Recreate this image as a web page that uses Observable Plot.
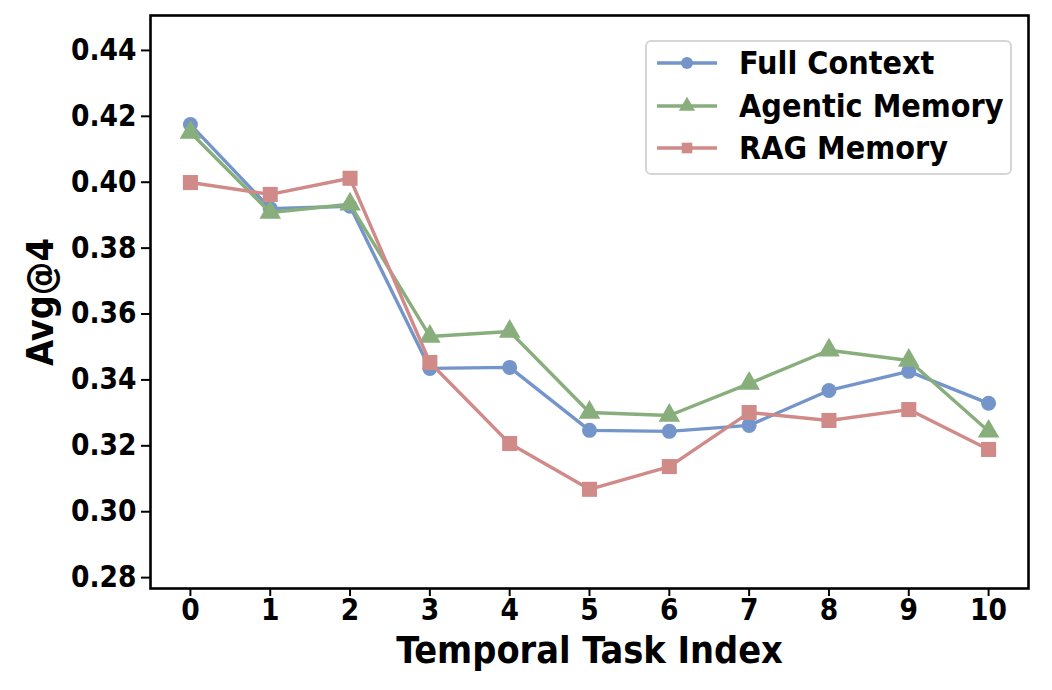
<!DOCTYPE html>
<html>
<head>
<meta charset="utf-8">
<script src="https://cdn.jsdelivr.net/npm/d3@7"></script>
<script src="https://cdn.jsdelivr.net/npm/@observablehq/plot@0.6"></script>
<style>
  html, body { margin: 0; padding: 0; background: #fff; }
  #wrap { position: relative; width: 1052px; height: 690px; font-family: "DejaVu Sans Condensed", "DejaVu Sans", sans-serif; }
  #legend {
    position: absolute; left: 645px; top: 40px; width: 367px; height: 135px;
    border: 2px solid #d6d6d6; border-radius: 6px; background: rgba(255,255,255,0.85);
    box-sizing: border-box;
  }
  .item { position: absolute; left: 8px; height: 30px; display: flex; align-items: center; }
  .item span { margin-left: 20px; font-weight: bold; font-size: 32px; color: #000; white-space: nowrap; }
</style>
</head>
<body>
<div id="wrap"><div id="legend"></div></div>
<script>
// Temporal task indices on the x axis
const taskIndex = [0, 1, 2, 3, 4, 5, 6, 7, 8, 9, 10];

// Avg@4 per task, one array per memory strategy
const fullContext   = [0.4175, 0.3920, 0.3927, 0.3435, 0.3438, 0.3247, 0.3244, 0.3262, 0.3368, 0.3426, 0.3329];
const agenticMemory = [0.4151, 0.3908, 0.3933, 0.3532, 0.3547, 0.3301, 0.3292, 0.3389, 0.3490, 0.3459, 0.3244];
const ragMemory     = [0.3999, 0.3963, 0.4012, 0.3453, 0.3207, 0.3068, 0.3137, 0.3301, 0.3277, 0.3310, 0.3189];

const seriesNames = ["Full Context", "Agentic Memory", "RAG Memory"];
const seriesColors = ["#7495c9", "#88ae7c", "#d08a88"];
const seriesSymbols = ["circle", "triangle", "square"];
const seriesSizes = [7.5, 8, 8.5];

const yTicks = [0.28, 0.30, 0.32, 0.34, 0.36, 0.38, 0.40, 0.42, 0.44];

const valuesBySeries = [fullContext, agenticMemory, ragMemory];
const rows = valuesBySeries.flatMap((vals, s) =>
  taskIndex.map((t, i) => ({ task: t, value: vals[i], series: seriesNames[s] }))
);

const marks = [];
seriesNames.forEach((name, s) => {
  const data = rows.filter(d => d.series === name);
  marks.push(Plot.line(data, { x: "task", y: "value", stroke: seriesColors[s], strokeWidth: 3.4 }));
  marks.push(Plot.dot(data, { x: "task", y: "value", fill: seriesColors[s], stroke: "none",
    symbol: () => seriesSymbols[s], r: seriesSizes[s] }));
});

const fontFamily = "'DejaVu Sans Condensed', 'DejaVu Sans', sans-serif";

const chart = Plot.plot({
  width: 1052,
  height: 690,
  marginLeft: 150,
  marginRight: 24,
  marginTop: 15,
  marginBottom: 102,
  style: { fontFamily, fontWeight: "bold", fontSize: "29.5px", color: "#000", background: "#fff" },
  x: { domain: [-0.5, 10.5], ticks: taskIndex, tickFormat: d => String(d), label: null },
  y: { domain: [0.2767, 0.4506], ticks: yTicks, tickFormat: d3.format(".2f"), label: null },
  symbol: { type: "identity" },
  marks: [
    ...marks,
    Plot.axisX({ ticks: taskIndex, tickFormat: d => String(d), tickSize: 8, tickPadding: 3, strokeWidth: 2, fontSize: 29.5, fontWeight: "bold",
      label: "Temporal Task Index", labelAnchor: "center", labelArrow: "none", labelOffset: 74 }),
    Plot.axisY({ ticks: yTicks, tickFormat: d3.format(".2f"), tickSize: 9, tickPadding: 5, strokeWidth: 2, fontSize: 29.5, fontWeight: "bold",
      label: "Avg@4", labelAnchor: "center", labelArrow: "none", labelOffset: 124 }),
    Plot.frame({ stroke: "#000", strokeWidth: 2.6 })
  ]
});
chart.querySelectorAll("g[aria-label='x-axis label'] text, g[aria-label='y-axis label'] text").forEach(t => {
  t.setAttribute("font-size", "37.5");
  t.style.fontSize = "37.5px";
});
document.getElementById("wrap").prepend(chart);

// Legend: line + marker swatch followed by series name
const legend = document.getElementById("legend");
seriesNames.forEach((name, s) => {
  const item = document.createElement("div");
  item.className = "item";
  item.style.top = (6 + s * 42.5) + "px";
  const sw = d3.create("svg").attr("width", 64).attr("height", 30);
  sw.append("line").attr("x1", 2).attr("x2", 62).attr("y1", 15).attr("y2", 15)
    .attr("stroke", seriesColors[s]).attr("stroke-width", 3.4);
  const sym = { circle: d3.symbolCircle, triangle: d3.symbolTriangle, square: d3.symbolSquare }[seriesSymbols[s]];
  sw.append("path").attr("transform", "translate(32,15)")
    .attr("d", d3.symbol(sym, Math.PI * 6 * 6)())
    .attr("fill", seriesColors[s]);
  item.appendChild(sw.node());
  const label = document.createElement("span");
  label.textContent = name;
  item.appendChild(label);
  legend.appendChild(item);
});
</script>
</body>
</html>
